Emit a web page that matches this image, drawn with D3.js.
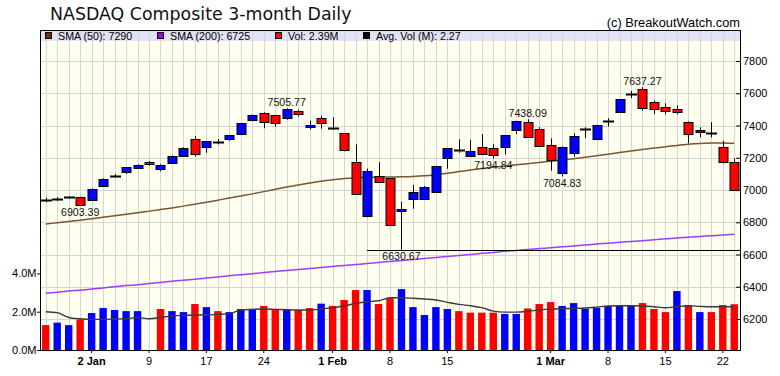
<!DOCTYPE html>
<html lang="en">
	<head>
		<meta charset="utf-8">
		<title>NASDAQ Composite 3-month Daily</title>
		<script src="https://d3js.org/d3.v7.min.js"></script>
		<style type="text/css">
body { margin: 0; background: #fff; }
text { font-family: "Liberation Sans", Arial, sans-serif; }
		</style>
	</head>
	<body>
<div id="chart"></div>
		<script type="text/javascript">
// trading days
var dates = ["2017-12-26","2017-12-27","2017-12-28","2017-12-29",
  "2018-01-02","2018-01-03","2018-01-04","2018-01-05","2018-01-08","2018-01-09","2018-01-10","2018-01-11","2018-01-12",
  "2018-01-16","2018-01-17","2018-01-18","2018-01-19","2018-01-22","2018-01-23","2018-01-24","2018-01-25","2018-01-26",
  "2018-01-29","2018-01-30","2018-01-31","2018-02-01","2018-02-02","2018-02-05","2018-02-06","2018-02-07","2018-02-08",
  "2018-02-09","2018-02-12","2018-02-13","2018-02-14","2018-02-15","2018-02-16","2018-02-20","2018-02-21","2018-02-22",
  "2018-02-23","2018-02-26","2018-02-27","2018-02-28","2018-03-01","2018-03-02","2018-03-05","2018-03-06","2018-03-07",
  "2018-03-08","2018-03-09","2018-03-12","2018-03-13","2018-03-14","2018-03-15","2018-03-16","2018-03-19","2018-03-20",
  "2018-03-21","2018-03-22","2018-03-23"];

var opens = [6938,6946,6956,6957,6942,7025,7088,7108,7138,7176,
  7132,7169,7211,7314,7265,7300,7314,7345,7432,7476,
  7465,7451,7488,7395,7445,7386,7352,7172,6843,7089,
  7072,6866,6942,6948,6984,7200,7246,7211,7265,7259,
  7265,7372,7424,7378,7277,7104,7228,7376,7314,7430,
  7482,7593,7628,7544,7513,7505,7424,7358,7352,7265,
  7176];
var highs = [6952,6956,6962,6959,7010,7072,7098,7142,7160,7180,
  7160,7215,7265,7333,7305,7316,7342,7416,7468,7482,
  7466,7505.77,7499,7430,7460,7450,7352,7283,7133,7172,
  7075,6927,7031,7025,7150,7260,7314,7310,7347,7284,
  7342,7430,7438.09,7390,7320,7270,7352,7389,7404,7445,
  7562,7615,7637.27,7554,7538,7525,7425,7389,7420,7305,
  7196];
var lows = [6925,6934,6946,6903.39,6930,7020,7076,7100,7130,7150,
  7116,7165,7205,7207,7231,7283,7305,7340,7426,7383,
  7393,7436,7456,7376,7380,7372,7240,6973,6831,7050,
  6778,6630.67,6884,6945,6982,7132,7231,7206,7218,7194.84,
  7220,7348,7330,7270,7120,7084.83,7207,7322,7310,7393,
  7478,7570,7492,7471,7469,7469,7290,7327,7327,7165,
  6995];
var closes = [6938,6946,6956,6905,7008,7070,7088,7140,7158,7166,
  7158,7213,7262,7223,7302,7300,7339,7414,7465,7422,
  7414,7505,7467,7405,7414,7386,7246,6973,7120,7054,
  6781,6880,6986,7021,7147,7259,7246,7242,7221,7213,
  7339,7428,7331,7275,7184,7265,7335,7376,7401,7430,
  7562,7593,7513,7502,7487,7488,7352,7370,7352,7170,
  7000];
var closeBefore = 6960;

// volume in millions (no bar for 9 Jan)
var volumes = [1.30,1.43,1.30,1.60,1.93,2.19,2.09,2.03,2.03,null,
  2.14,2.03,1.98,2.40,2.24,2.03,1.98,2.14,2.14,2.30,
  2.12,2.12,2.09,2.19,2.42,2.30,2.61,3.13,3.13,2.40,
  2.71,3.18,2.24,1.83,2.24,2.14,2.03,1.95,1.95,1.95,
  1.88,1.88,2.17,2.40,2.50,2.30,2.45,2.16,2.21,2.30,
  2.30,2.30,2.45,2.14,1.98,3.08,2.35,1.98,1.98,2.35,
  2.39];
var avgVolumes = [2.00,1.95,1.70,1.63,1.60,1.60,1.62,1.63,1.70,1.63,
  1.70,1.77,1.81,1.83,1.83,1.86,1.90,2.09,2.12,2.14,
  2.12,2.10,2.09,2.09,2.14,2.21,2.30,2.43,2.52,2.57,
  2.73,2.73,2.70,2.66,2.61,2.49,2.38,2.31,2.21,2.03,
  1.98,1.98,2.02,2.09,2.14,2.16,2.17,2.19,2.24,2.30,
  2.31,2.31,2.30,2.26,2.21,2.26,2.31,2.28,2.26,2.26,
  2.27];

var sma50 = [6789,6797,6805,6813,6822,6831,6840,6850,6859,6869,
  6879,6889,6900,6912,6924,6937,6950,6963,6976,6990,
  7004,7018,7031,7043,7054,7063,7071,7076,7079,7080,
  7081,7082,7084,7088,7095,7104,7114,7124,7133,7141,
  7148,7156,7163,7171,7178,7186,7194,7203,7212,7222,
  7232,7242,7251,7260,7268,7276,7283,7288,7291,7292,
  7290];
var sma200 = [6359,6366,6373,6379,6386,6393,6400,6407,6413,6420,
  6427,6434,6441,6447,6454,6461,6468,6475,6481,6488,
  6495,6501,6507,6513,6520,6526,6532,6538,6544,6551,
  6557,6563,6569,6575,6582,6588,6594,6600,6607,6613,
  6620,6625,6631,6637,6642,6648,6653,6659,6665,6670,
  6676,6681,6686,6692,6697,6703,6707,6712,6716,6721,
  6725];

// axis ticks
var priceTicks = [6200,6400,6600,6800,7000,7200,7400,7600,7800];
var volTicks = [0,2,4];
var dateTicks = ["2018-01-02","2018-01-09","2018-01-17","2018-01-24","2018-02-01","2018-02-08",
  "2018-02-15","2018-03-01","2018-03-08","2018-03-15","2018-03-22"];
var dateTickLabels = ["2 Jan","9","17","24","1 Feb","8","15","1 Mar","8","15","22"];

// marked highs / lows
var markDates = ["2017-12-29","2018-01-26","2018-02-09","2018-02-22","2018-02-27","2018-03-02","2018-03-13"];
var markSides = ["low","high","low","low","high","low","high"];

var supportLevel = 6630.67;
var supportFrom = "2018-02-06";

// legend
var legendLabels = ["SMA (50): 7290","SMA (200): 6725","Vol: 2.39M","Avg. Vol (M): 2.27"];
var legendColors = ["#663300","#9900ff","#ff0000","#000000"];
var legendX = [45,157,275,363];

//Width and height
var w = 780;
var h = 376;
var plotLeft = 40, plotRight = 740, plotTop = 30, plotBottom = 350;

var xScale = d3.scaleBand()
  .domain(dates)
  .range([plotLeft, plotRight]);
var bw = xScale.bandwidth();
var cx = d => xScale(d) + bw / 2;

var yScale = d3.scaleLinear()
  .domain([6200, 7800])
  .range([319, 61]);

var vScale = d3.scaleLinear()
  .domain([0, 4])
  .range([plotBottom, 273.4]);

var svg = d3.select("#chart")
  .append("svg")
  .attr("width", w)
  .attr("height", h);

var days = dates.map((d, i) => ({
  date: d, o: opens[i], h: highs[i], l: lows[i], c: closes[i],
  v: volumes[i], av: avgVolumes[i], s50: sma50[i], s200: sma200[i],
  up: closes[i] > (i > 0 ? closes[i - 1] : closeBefore)
}));

// title
svg.append("text")
  .attr("x", 50)
  .attr("y", 20)
  .style("font-family", "'DejaVu Sans', sans-serif")
  .style("font-size", "17.4px")
  .attr("fill", "#111")
  .text("NASDAQ Composite 3-month Daily");

svg.append("text")
  .attr("x", plotRight)
  .attr("y", 27)
  .attr("text-anchor", "end")
  .style("font-size", "12.8px")
  .text("(c) BreakoutWatch.com");

// plot background
svg.append("rect")
  .attr("x", plotLeft).attr("y", plotTop)
  .attr("width", plotRight - plotLeft).attr("height", plotBottom - plotTop)
  .attr("fill", "#fffff0");

svg.append("rect")
  .attr("x", plotLeft).attr("y", plotTop)
  .attr("width", plotRight - plotLeft).attr("height", 11)
  .attr("fill", "#e2e2f6");

// grid
svg.append("g")
  .selectAll("line")
  .data(dates)
  .enter()
  .append("line")
  .attr("x1", d => Math.round(cx(d)) + 0.5)
  .attr("x2", d => Math.round(cx(d)) + 0.5)
  .attr("y1", plotTop)
  .attr("y2", plotBottom)
  .attr("stroke", "#d6d6d6");

svg.append("g")
  .selectAll("line")
  .data(priceTicks)
  .enter()
  .append("line")
  .attr("x1", plotLeft)
  .attr("x2", plotRight)
  .attr("y1", d => Math.round(yScale(d)) + 0.5)
  .attr("y2", d => Math.round(yScale(d)) + 0.5)
  .attr("stroke", "#d6d6d6");

// legend
var legend = svg.append("g");
legend.selectAll("rect")
  .data(legendLabels)
  .enter()
  .append("rect")
  .attr("x", (d, i) => legendX[i] + 0.5)
  .attr("y", 32.5)
  .attr("width", 6)
  .attr("height", 6)
  .attr("fill", (d, i) => legendColors[i])
  .attr("stroke", "#000");
legend.selectAll("text")
  .data(legendLabels)
  .enter()
  .append("text")
  .attr("x", (d, i) => legendX[i] + 13)
  .attr("y", 39.5)
  .style("font-size", "10.7px")
  .text(d => d);

// volume bars
svg.append("g")
  .selectAll("rect")
  .data(days.filter(d => d.v != null))
  .enter()
  .append("rect")
  .attr("x", d => cx(d.date) - 3.7)
  .attr("width", 7.4)
  .attr("y", d => vScale(d.v))
  .attr("height", d => plotBottom - vScale(d.v))
  .attr("fill", d => d.up ? "#0000ff" : "#ff0000");

// average volume
svg.append("path")
  .datum(days)
  .attr("fill", "none")
  .attr("stroke", "#3a3a3a")
  .attr("stroke-width", 1.4)
  .attr("d", d3.line().x(d => cx(d.date)).y(d => vScale(d.av)).curve(d3.curveMonotoneX));

// moving averages
svg.append("path")
  .datum(days)
  .attr("fill", "none")
  .attr("stroke", "#9f3cff")
  .attr("stroke-width", 1.5)
  .attr("d", d3.line().x(d => cx(d.date)).y(d => yScale(d.s200)).curve(d3.curveMonotoneX));

svg.append("path")
  .datum(days)
  .attr("fill", "none")
  .attr("stroke", "#7d5330")
  .attr("stroke-width", 1.5)
  .attr("d", d3.line().x(d => cx(d.date)).y(d => yScale(d.s50)).curve(d3.curveMonotoneX));

// support line
svg.append("line")
  .attr("x1", cx(supportFrom))
  .attr("x2", plotRight)
  .attr("y1", Math.round(yScale(supportLevel)) + 0.5)
  .attr("y2", Math.round(yScale(supportLevel)) + 0.5)
  .attr("stroke", "#000");

// candles
var candles = svg.append("g")
  .selectAll("g")
  .data(days)
  .enter()
  .append("g");

candles.append("line")
  .attr("x1", d => Math.round(cx(d.date)) + 0.5)
  .attr("x2", d => Math.round(cx(d.date)) + 0.5)
  .attr("y1", d => yScale(d.h))
  .attr("y2", d => yScale(d.l))
  .attr("stroke", "#000");

candles.filter(d => d.o === d.c)
  .append("line")
  .attr("x1", d => Math.round(cx(d.date)) - 5)
  .attr("x2", d => Math.round(cx(d.date)) + 6)
  .attr("y1", d => Math.round(yScale(d.c)) + 0.5)
  .attr("y2", d => Math.round(yScale(d.c)) + 0.5)
  .attr("stroke", "#000")
  .attr("stroke-width", 2);

candles.filter(d => d.o !== d.c)
  .append("rect")
  .attr("x", d => Math.round(cx(d.date)) - 4)
  .attr("width", 9)
  .attr("y", d => Math.round(yScale(Math.max(d.o, d.c))) + 0.5)
  .attr("height", d => Math.max(2, Math.round(yScale(Math.min(d.o, d.c)) - yScale(Math.max(d.o, d.c)))))
  .attr("fill", d => d.c > d.o ? "#0000ff" : "#ff0000")
  .attr("stroke", "#000");

// high / low marks
svg.append("g")
  .selectAll("text")
  .data(markDates)
  .enter()
  .append("text")
  .attr("x", d => cx(d))
  .attr("y", (d, i) => {
    var day = days[dates.indexOf(d)];
    return markSides[i] === "high" ? yScale(day.h) - 2.5 : yScale(day.l) + 10.3;
  })
  .attr("text-anchor", "middle")
  .style("font-size", "10.6px")
  .attr("fill", "#111")
  .text((d, i) => {
    var day = days[dates.indexOf(d)];
    return (markSides[i] === "high" ? day.h : day.l).toFixed(2);
  });

// axes
var yAxis = d3.axisRight(yScale)
  .tickValues(priceTicks)
  .tickFormat(d3.format("d"))
  .tickSizeInner(-4)
  .tickSizeOuter(0)
  .tickPadding(3);

svg.append("g")
  .attr("transform", "translate(" + plotRight + ",0)")
  .call(yAxis)
  .call(g => g.select(".domain").remove());

var vAxis = d3.axisLeft(vScale)
  .tickValues(volTicks)
  .tickFormat(d => d.toFixed(1) + "M")
  .tickSize(3)
  .tickPadding(0.5);

svg.append("g")
  .attr("transform", "translate(" + plotLeft + ",0)")
  .call(vAxis)
  .call(g => g.select(".domain").remove());

var xAxis = d3.axisBottom(xScale)
  .tickValues(dateTicks)
  .tickFormat((d, i) => dateTickLabels[i])
  .tickSize(3)
  .tickPadding(4);

svg.append("g")
  .attr("transform", "translate(0," + plotBottom + ")")
  .call(xAxis)
  .call(g => g.select(".domain").remove())
  .selectAll(".tick text")
  .style("font-weight", (d, i) => dateTickLabels[i].length > 2 ? "bold" : "normal");

svg.selectAll(".tick text")
  .style("font-family", "'Liberation Sans', Arial, sans-serif")
  .style("font-size", "11px")
  .attr("fill", "#000");
svg.selectAll(".tick line").attr("stroke", "#000");

// border
svg.append("rect")
  .attr("x", plotLeft + 0.5).attr("y", plotTop + 0.5)
  .attr("width", plotRight - plotLeft).attr("height", plotBottom - plotTop)
  .attr("fill", "none")
  .attr("stroke", "#000");

		</script>
	</body>
</html>
